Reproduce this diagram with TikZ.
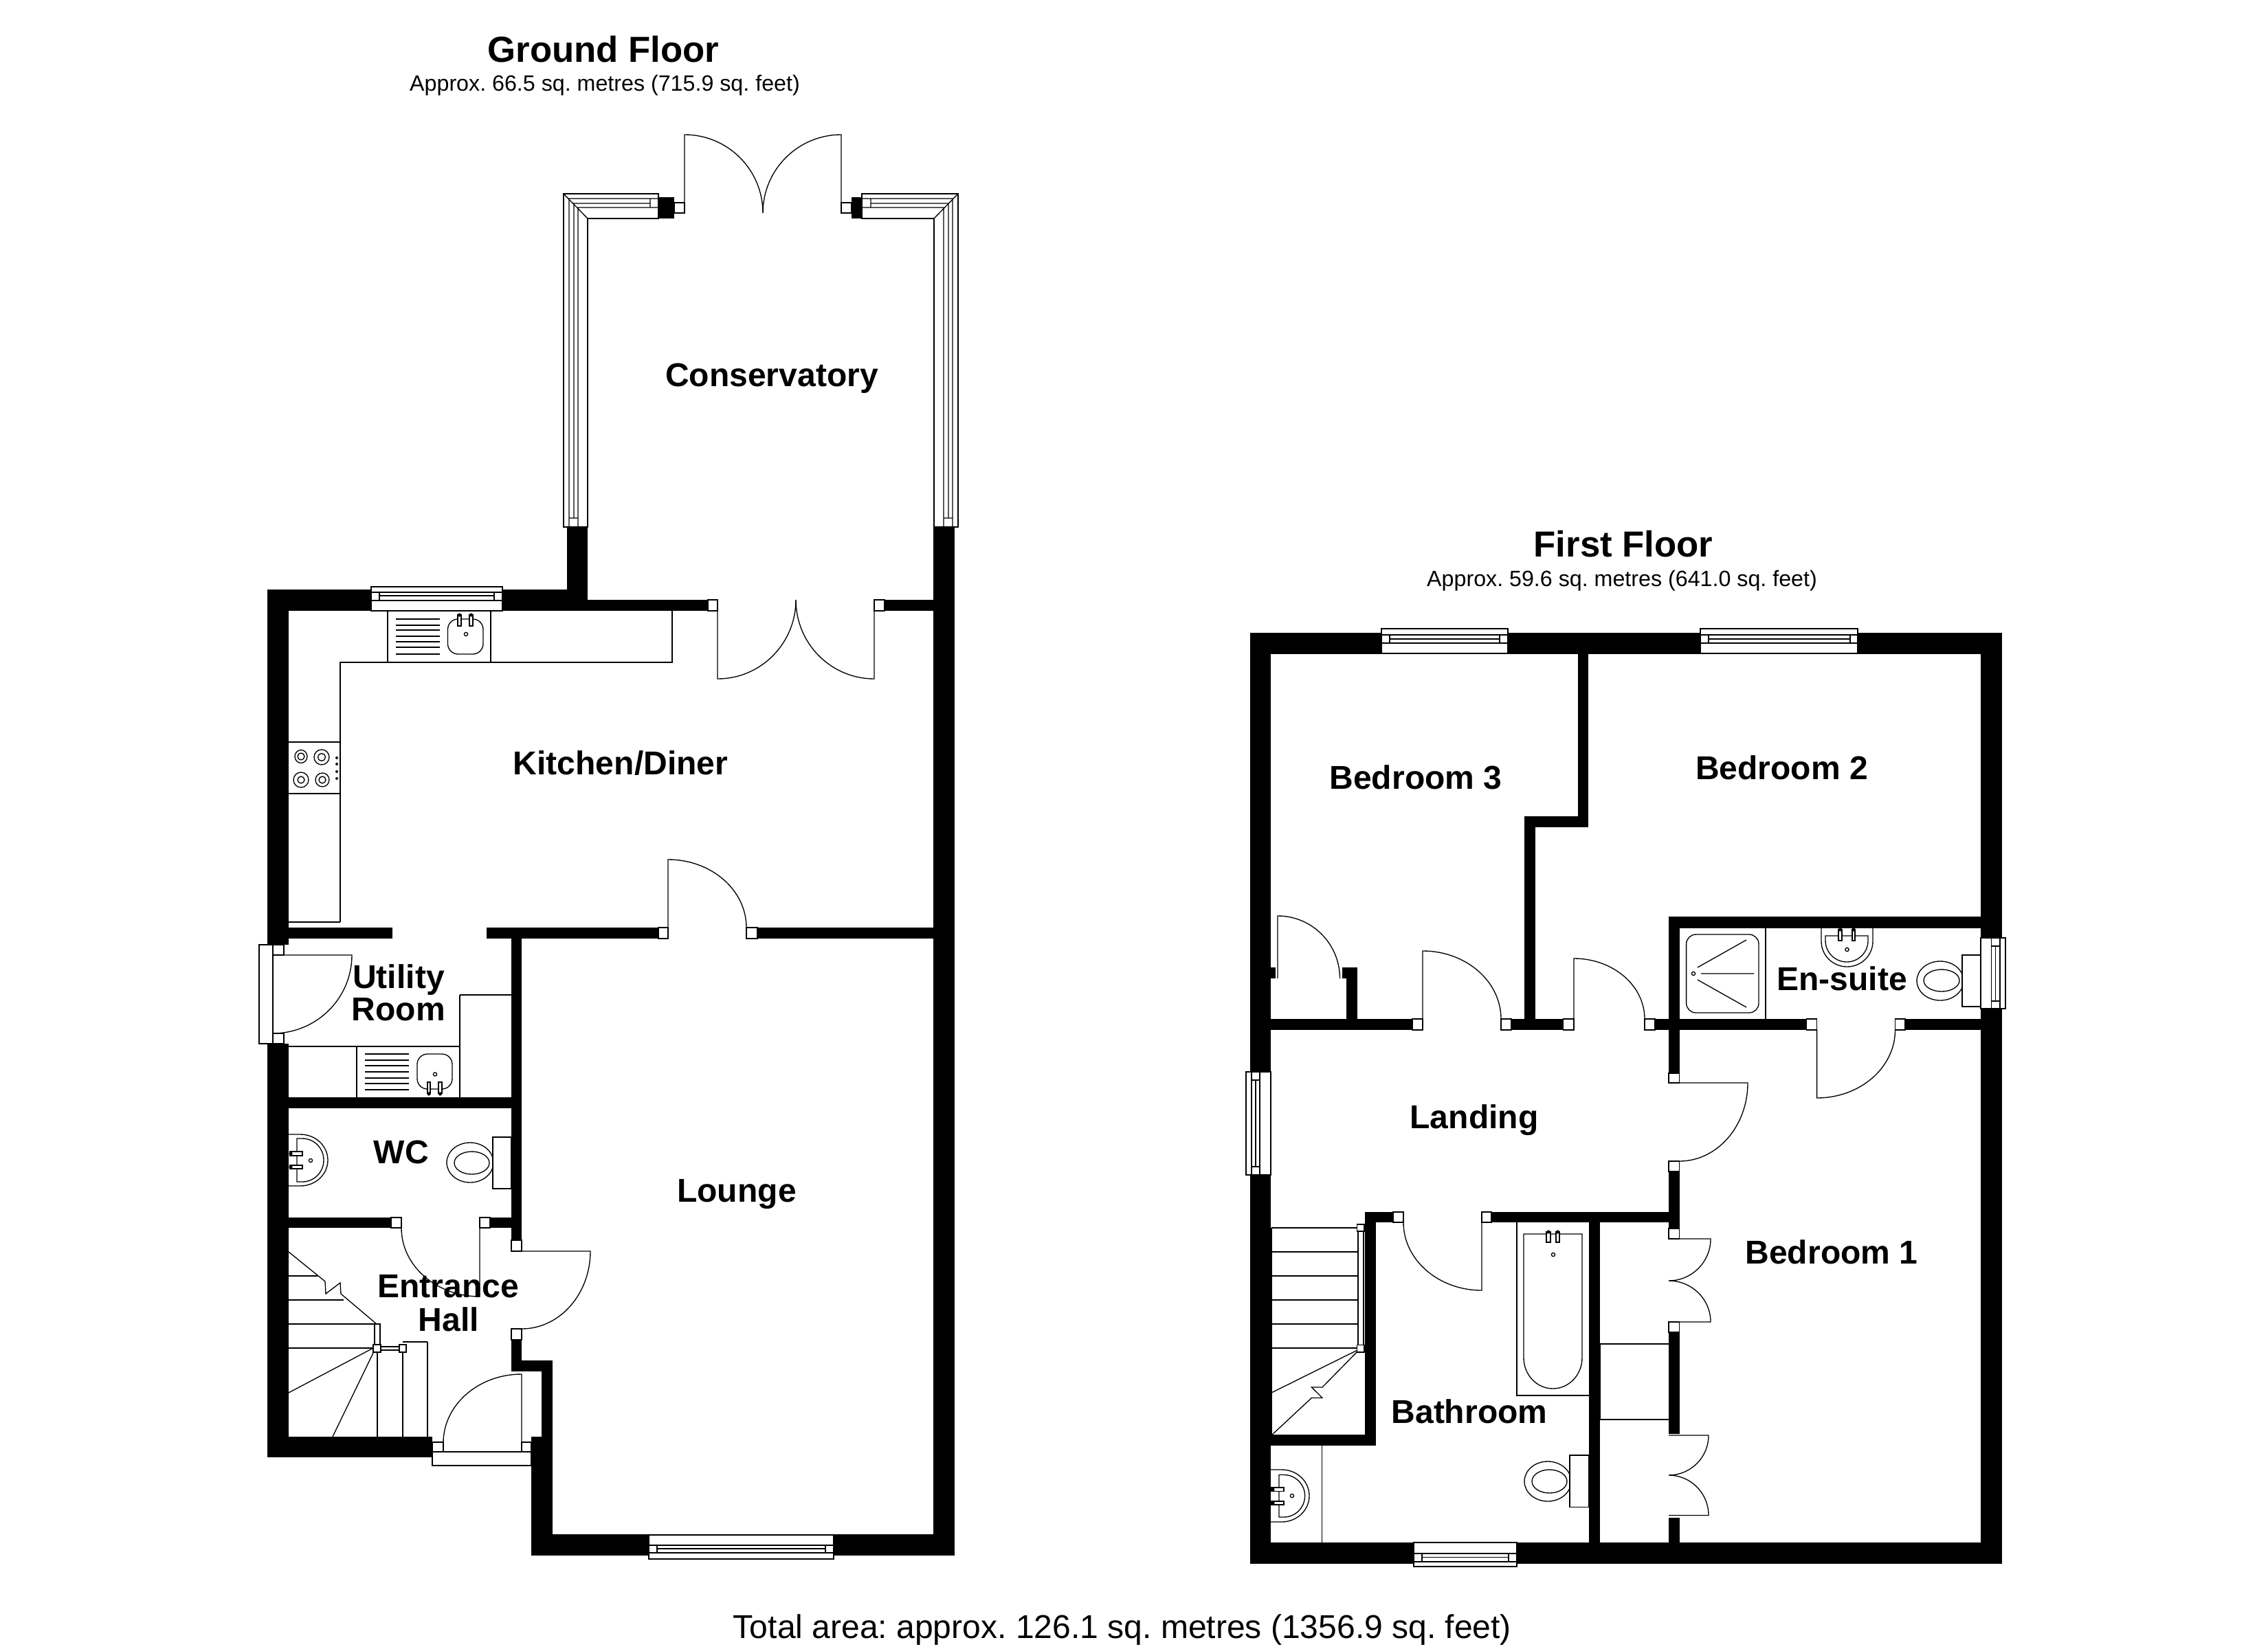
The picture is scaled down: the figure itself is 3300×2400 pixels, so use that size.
\documentclass[tikz,border=0pt]{standalone}
\usepackage{fontspec}
\setmainfont{Liberation Sans}
\usetikzlibrary{calc}
\frenchspacing
\newcommand\wl[4]{\fill[black] (#1,#2) rectangle (#3,#4);}
\newcommand\qs[3]{.. controls ($(#1)!.5523!(#2)$) and ($(#3)!.5523!(#2)$) .. (#3)}
\newcommand\jb[4]{\draw[fill=white] (#1,#2) rectangle (#3,#4);}
% leaf from a to tip, arc tip-corner-end
\newcommand\door[4]{\draw (#1) -- (#2) \qs{#2}{#3}{#4};}
\newcommand\hwin[9]{\draw[fill=white] (#1,#3) rectangle (#2,#7);
  \draw (#1,#4) -- (#2,#4) (#1,#6) -- (#2,#6) (#8,#4) -- (#8,#6) (#9,#4) -- (#9,#6) (#8,#5) -- (#9,#5);}
\newcommand\vwin[9]{\draw[fill=white] (#3,#1) rectangle (#7,#2);
  \draw (#4,#1) -- (#4,#2) (#6,#1) -- (#6,#2) (#4,#8) -- (#6,#8) (#4,#9) -- (#6,#9) (#5,#8) -- (#5,#9);}
\newcommand\dr[2]{\draw (#1,#2) circle [radius=2.6];}
\newcommand\tap[4]{\draw[fill=white] (#1,#2) rectangle (#3,#4);}
\newcommand\blob[2]{\fill[black] (#1,#2) circle [radius=2.6];}
\tikzset{
  rm/.style={font=\fontsize{13.66pt}{13.66pt}\selectfont\bfseries,inner sep=0pt,anchor=base,align=center},
  ttl/.style={font=\fontsize{15pt}{15pt}\selectfont\bfseries,inner sep=0pt,anchor=base},
  sbt/.style={font=\fontsize{9.16pt}{9.16pt}\selectfont,inner sep=0pt,anchor=base},
  tot/.style={font=\fontsize{13.66pt}{13.66pt}\selectfont,inner sep=0pt,anchor=base}
}
\begin{document}
\begin{tikzpicture}[x=0.01cm,y=-0.01cm,line width=0.38pt,line join=miter]
\useasboundingbox (0,0) rectangle (3300,2400);
\fill[white] (0,0) rectangle (3300,2400);
%% ---------- GROUND FLOOR walls
\wl{389}{858}{420}{1375}
\wl{389}{858}{855}{889}
\wl{825}{767}{855}{889}
\wl{855}{873}{1030}{889}
\wl{1358}{767}{1389}{2264}
\wl{1287}{873}{1358}{889}
\wl{389}{1519}{420}{2121}
\wl{389}{2091}{629}{2121}
\wl{420}{1350}{571}{1366}
\wl{708}{1350}{958}{1366}
\wl{1102}{1350}{1358}{1366}
\wl{744}{1350}{759}{1805}
\wl{420}{1597}{744}{1613}
\wl{420}{1772}{569}{1787}
\wl{713}{1772}{744}{1787}
\wl{744}{1934}{759}{1996}
\wl{744}{1980}{804}{1996}
\wl{788}{1980}{804}{2264}
\wl{773}{2091}{804}{2264}
\wl{773}{2233}{1389}{2264}
\wl{958}{287}{981}{318}
\wl{1239}{287}{1254}{318}
%% conservatory frames
\draw[fill=white] (820,767) -- (820,282) -- (958,282) -- (958,318) -- (855,318) -- (855,767) -- cycle;
\draw (828,767) -- (828,289) -- (958,289) (841,767) -- (841,302) -- (958,302) (835,754) -- (835,296) -- (946,296)
  (828,754) -- (841,754) (946,289) -- (946,302) (820,282) -- (855,318);
\draw[fill=white] (1394,767) -- (1394,282) -- (1254,282) -- (1254,318) -- (1359,318) -- (1359,767) -- cycle;
\draw (1386,767) -- (1386,289) -- (1254,289) (1373,767) -- (1373,302) -- (1254,302) (1380,754) -- (1380,296) -- (1267,296)
  (1373,754) -- (1386,754) (1267,289) -- (1267,302) (1394,282) -- (1359,318);
%% conservatory doors
\jb{981}{295}{996}{310}
\jb{1224}{295}{1239}{310}
\door{996,310}{996,196}{1110,196}{1110,310}
\door{1224,310}{1224,196}{1110,196}{1110,310}
%% kitchen double door
\jb{1030}{873}{1044}{889}
\jb{1272}{873}{1287}{889}
\door{1044,873}{1044,988}{1158,988}{1158,873}
\door{1272,873}{1272,988}{1158,988}{1158,873}
%% kitchen fittings
\draw (495,1342) -- (495,964) -- (978,964) -- (978,889);
\draw (420,1342) -- (495,1342);
\draw (564,889) -- (564,964) (714,889) -- (714,964);
\foreach \y in {901,910,917,926,934,942,952} {\draw (576,\y) -- (640,\y);}
\draw[rounded corners=0.15cm] (651.5,901) rectangle (703,952);
\dr{678}{923}
\tap{666}{895}{671}{911} \tap{683}{895}{688}{911}
\blob{668.5}{895} \blob{685.5}{895}
\draw (420,1080) -- (495,1080) (420,1155) -- (495,1155);
\draw (438,1101) ellipse [x radius=9,y radius=9.5] (438,1101) circle [radius=5];
\draw (468,1102) ellipse [x radius=11,y radius=11] (468,1102) circle [radius=5.5];
\draw (438,1135) ellipse [x radius=11,y radius=11] (438,1135) circle [radius=5];
\draw (469,1135) ellipse [x radius=10,y radius=10] (469,1135) circle [radius=5];
\foreach \y in {1103,1112,1123,1133} {\draw (490,\y) circle [radius=1.5];}
%% kitchen window
\hwin{540}{731}{854}{862}{867}{874}{889}{552}{719}
%% lounge door
\jb{958}{1350}{972}{1366}
\jb{1086}{1350}{1102}{1366}
\door{972,1366}{972,1251}{1086,1251}{1086,1350}
%% utility door
\draw[fill=white] (377,1375) rectangle (397,1519);
\jb{397}{1375}{413}{1390}
\jb{397}{1504}{413}{1519}
\door{397,1390}{512,1390}{512,1504}{397,1504}
%% utility fittings
\draw (420,1523) -- (669,1523) (669,1448) -- (669,1597) (669,1448) -- (744,1448) (519,1523) -- (519,1597);
\foreach \y in {1534,1543,1551,1560,1569,1577,1586} {\draw (531,\y) -- (595,\y);}
\draw[rounded corners=0.15cm] (607,1534) rectangle (658,1585);
\dr{633}{1563.5}
\tap{622}{1575}{626}{1591} \tap{638}{1575}{643}{1591}
\blob{624}{1592} \blob{640.5}{1592}
%% WC
\draw (420,1651) -- (437,1651) \qs{437,1651}{477,1651}{477,1688.5} \qs{477,1688.5}{477,1726}{437,1726} -- (420,1726);
\draw (432,1657) -- (432,1720) -- (440,1720) \qs{440,1720}{471,1720}{471,1688.5} \qs{471,1688.5}{471,1657}{440,1657} -- cycle;
\tap{422}{1676}{440}{1682} \tap{422}{1696}{440}{1701}
\blob{423}{1679} \blob{423}{1698.5}
\dr{452}{1689}
\draw (684,1692) ellipse [x radius=34,y radius=29];
\draw (686.5,1692.5) ellipse [x radius=25.5,y radius=16.5];
\draw[fill=white] (717,1655) rectangle (744,1730);
%% WC door
\jb{569}{1772}{584}{1787}
\jb{698}{1772}{713}{1787}
\door{698,1772}{698,1887}{584,1887}{584,1787}
%% hall/lounge door
\jb{744}{1805}{759}{1821}
\jb{744}{1934}{759}{1950}
\door{744,1821}{859,1821}{859,1934}{759,1934}
%% stairs
\draw (420,1822) -- (473,1865) -- (474,1883) -- (495,1867) -- (496,1883) -- (548,1927);
\draw (420,1857) -- (462,1857) (420,1892) -- (500,1892) (420,1927) -- (548,1927) (420,1962) -- (543,1962);
\draw (543,1962) -- (420,2027) (545,1965) -- (484,2091);
\draw (549,1966) -- (549,2091) (586,1960) -- (586,2091) (622,1953) -- (622,2091) (586,1953) -- (622,1953);
\draw[fill=white] (545,1927) rectangle (553,1957);
\draw[fill=white] (554,1960) rectangle (581,1965);
\draw[fill=white] (543,1957) rectangle (554,1968);
\draw[fill=white] (581,1957) rectangle (591,1968);
%% entrance door
\draw (629,2113) rectangle (773,2133);
\jb{629}{2099}{645}{2113}
\jb{759}{2099}{773}{2113}
\door{759,2113}{759,2000}{645,2000}{645,2100}
%% lounge window
\hwin{944}{1213}{2234}{2249}{2254}{2260}{2269}{956}{1201}
%% ---------- FIRST FLOOR walls
\wl{1819}{921}{2913}{952}
\wl{1819}{921}{1849}{2276}
\wl{2882}{921}{2913}{2276}
\wl{1819}{2245}{2913}{2276}
\wl{2295.5}{952}{2310.6}{1204}
\wl{2218}{1188}{2310.6}{1204}
\wl{2218}{1188}{2234}{1483}
\wl{1849}{1483}{2055}{1499}
\wl{2199}{1483}{2274.5}{1499}
\wl{2408}{1483}{2628.6}{1499}
\wl{2772}{1483}{2882}{1499}
\wl{2428}{1334}{2882}{1351}
\wl{2428}{1334}{2443.5}{1562}
\wl{2428}{1705}{2443.5}{1788}
\wl{2428}{1939}{2443.5}{2086.5}
\wl{2428}{2209}{2443.5}{2245}
\wl{2170}{1764}{2428}{1779}
\wl{1986}{1764}{2027}{1779}
\wl{1986}{1764}{2002}{2104}
\wl{1849}{2088}{2002}{2104}
\wl{2312}{1779}{2327.6}{2245}
\wl{1849}{1408}{1856}{1424}
\wl{1952.6}{1408}{1975}{1424}
\wl{1959}{1408}{1975}{1483}
%% first floor windows
\hwin{2010}{2194}{915}{924}{930}{936}{951}{2022}{2182}
\hwin{2474}{2703}{915}{924}{930}{936}{951}{2486}{2692}
\hwin{2057}{2207}{2245}{2261}{2266.5}{2273}{2280}{2069}{2195}
\vwin{1560}{1710}{1813}{1821}{1827}{1833}{1849}{1572}{1698}
\vwin{1365}{1468}{2882}{2897.5}{2903.5}{2910}{2918}{1377}{1457}
%% first floor doors
\door{1859,1424}{1859,1333}{1949.5,1333}{1949.5,1424}
\jb{2055}{1483}{2070}{1499}
\jb{2184}{1483}{2199}{1499}
\door{2070,1483}{2070,1384}{2184,1384}{2184,1483}
\jb{2274.5}{1483}{2290}{1499}
\jb{2393}{1483}{2408}{1499}
\door{2290,1483}{2290,1395}{2393,1395}{2393,1483}
\jb{2628.6}{1483}{2643.6}{1499}
\jb{2757.5}{1483}{2772}{1499}
\door{2643.6,1499}{2643.6,1598}{2757.5,1598}{2757.5,1499}
\jb{2428}{1562}{2443.5}{1576}
\jb{2428}{1690}{2443.5}{1705}
\door{2428,1576}{2543,1576}{2543,1690}{2443.5,1690}
\jb{2027}{1764}{2042}{1779}
\jb{2156}{1764}{2170}{1779}
\door{2156,1779}{2156,1878}{2042,1878}{2042,1779}
%% wardrobe doors
\jb{2428}{1788}{2443.5}{1803}
\jb{2428}{1924}{2443.5}{1939}
\door{2428,1803}{2489,1803}{2489,1864}{2428,1864}
\door{2428,1924}{2489,1924}{2489,1864}{2428,1864}
\door{2428,2089}{2486,2089}{2486,2147}{2428,2147}
\door{2428,2205.5}{2486,2205.5}{2486,2147}{2428,2147}
\draw (2328,1956) -- (2428,1956) (2328,2066) -- (2428,2066) (2328,1956) -- (2328,2066);
%% first floor stairs
\draw (1850,1787) -- (1850,2088);
\foreach \y in {1787,1822,1857,1892,1927,1962} {\draw (1850,\y) -- (1976,\y);}
\draw (1975,1965) -- (1850,2027);
\draw (1975,1967) -- (1924,2019) -- (1908.4,2019) -- (1924,2034.5) -- (1908.4,2034.5) -- (1850,2089);
\draw[fill=white] (1976,1787) rectangle (1984,1962);
\draw[fill=white] (1974.5,1782) rectangle (1985,1792);
\draw[fill=white] (1974.5,1957.5) rectangle (1985,1968);
%% bathroom
\draw (2207,1779) -- (2207,2031) -- (2312,2031);
\draw (2217,1796) -- (2302,1796) -- (2302,1976) \qs{2302,1976}{2302,2021}{2259.5,2021} \qs{2259.5,2021}{2217,2021}{2217,1976} -- cycle;
\tap{2250}{1793}{2256}{1808} \tap{2264}{1793}{2269}{1808}
\blob{2253}{1793} \blob{2266.5}{1793}
\dr{2260}{1826}
\draw (1923.6,2104) -- (1923.6,2245);
\draw (1849,2139) -- (1865,2139) \qs{1865,2139}{1905,2139}{1905,2177} \qs{1905,2177}{1905,2215}{1865,2215} -- (1849,2215);
\draw (1861,2146.5) -- (1861,2208) -- (1868,2208) \qs{1868,2208}{1898.6,2208}{1898.6,2177} \qs{1898.6,2177}{1898.6,2146.5}{1868,2146.5} -- cycle;
\tap{1850}{2165}{1868}{2170.5} \tap{1850}{2185}{1868}{2190}
\blob{1852}{2168} \blob{1852}{2187.5}
\dr{1880}{2177}
\draw (2252,2156) ellipse [x radius=34,y radius=29];
\draw (2254.5,2156) ellipse [x radius=25.5,y radius=17];
\draw[fill=white] (2284,2118) rectangle (2312,2193.5);
%% en-suite
\draw (2569,1351) -- (2569,1483);
\draw[rounded corners=0.14cm] (2453.6,1360) rectangle (2559,1474);
\dr{2464}{1417}
\draw (2470,1408) -- (2541,1368) (2475,1417) -- (2552,1417) (2470,1426) -- (2541,1466);
\draw (2650,1351) -- (2650,1370) \qs{2650,1370}{2650,1407}{2687.5,1407} \qs{2687.5,1407}{2725,1407}{2725,1370} -- (2725,1351);
\draw (2656,1362) -- (2718,1362) -- (2718,1369) \qs{2718,1369}{2718,1400}{2687,1400} \qs{2687,1400}{2656,1400}{2656,1369} -- cycle;
\tap{2675}{1353}{2680}{1369} \tap{2695}{1353}{2699}{1369}
\blob{2677.5}{1353} \blob{2697}{1353}
\dr{2687.5}{1382}
\draw (2823,1427.5) ellipse [x radius=34,y radius=28.5];
\draw (2825,1427) ellipse [x radius=26,y radius=16];
\draw[fill=white] (2855,1390) rectangle (2882,1465);
%% ---------- labels
\node[ttl] (gft) at (878,91) {Ground Floor};
\node[sbt] (gfs) at (880,133) {Approx. 66.5 sq. metres (715.9 sq. feet)};
\node[ttl] (fft) at (2362,810) {First Floor};
\node[sbt] (ffs) at (2360,853) {Approx. 59.6 sq. metres (641.0 sq. feet)};
\node[tot] (total) at (1633,2384) {Total area: approx. 126.1 sq. metres (1356.9 sq. feet)};
\node[rm] (cons) at (1123,562) {Conservatory};
\node[rm] (kit) at (903,1127) {Kitchen/Diner};
\node[rm] (util1) at (580,1438) {Utility};
\node[rm] (util2) at (580,1485) {Room};
\node[rm] (wc) at (584,1693) {WC};
\node[rm] (ent1) at (652,1888) {Entrance};
\node[rm] (ent2) at (653,1937) {Hall};
\node[rm] (lounge) at (1072,1749) {Lounge};
\node[rm] (bed3) at (2060,1148) {Bedroom 3};
\node[rm] (bed2) at (2592.5,1134) {Bedroom 2};
\node[rm] (land) at (2145,1642) {Landing};
\node[rm] (ens) at (2680,1441) {En-suite};
\node[rm] (bath) at (2138,2071) {Bathroom};
\node[rm] (bed1) at (2665,1839) {Bedroom 1};
\end{tikzpicture}
\end{document}
